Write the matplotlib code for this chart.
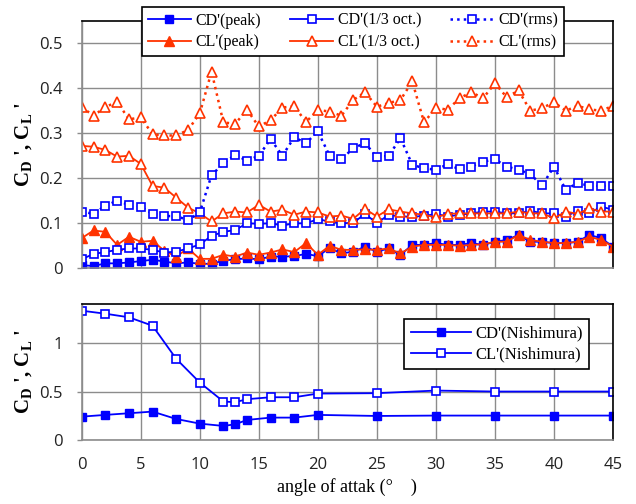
import numpy as np
import matplotlib
matplotlib.use("Agg")
import matplotlib.pyplot as plt

plt.rcParams['mathtext.fontset'] = 'custom'
plt.rcParams['mathtext.rm'] = 'Liberation Serif'
plt.rcParams['mathtext.bf'] = 'Liberation Serif:bold'

angles = list(range(0, 46))

cd_peak = [0.007, 0.005, 0.011, 0.011, 0.013, 0.016, 0.019, 0.015, 0.011, 0.013,
           0.010, 0.010, 0.017, 0.020, 0.022, 0.020, 0.026, 0.026, 0.027, 0.032,
           0.027, 0.045, 0.033, 0.037, 0.048, 0.037, 0.044, 0.030, 0.052, 0.052,
           0.056, 0.052, 0.052, 0.056, 0.052, 0.059, 0.063, 0.074, 0.059, 0.059,
           0.056, 0.056, 0.059, 0.074, 0.067, 0.048]
cl_peak = [0.067, 0.084, 0.081, 0.052, 0.070, 0.059, 0.061, 0.039, 0.026, 0.044,
           0.021, 0.021, 0.030, 0.026, 0.035, 0.030, 0.035, 0.042, 0.036, 0.056,
           0.030, 0.050, 0.041, 0.041, 0.042, 0.041, 0.044, 0.033, 0.048, 0.052,
           0.052, 0.052, 0.050, 0.052, 0.053, 0.059, 0.059, 0.074, 0.063, 0.059,
           0.056, 0.056, 0.059, 0.070, 0.063, 0.048]
cd_oct = [0.020, 0.032, 0.036, 0.041, 0.044, 0.044, 0.041, 0.035, 0.037, 0.044,
          0.053, 0.072, 0.081, 0.085, 0.100, 0.099, 0.100, 0.095, 0.100, 0.100,
          0.109, 0.104, 0.100, 0.101, 0.121, 0.100, 0.119, 0.115, 0.115, 0.116,
          0.121, 0.115, 0.119, 0.122, 0.126, 0.126, 0.122, 0.122, 0.128, 0.122,
          0.122, 0.115, 0.128, 0.122, 0.137, 0.130]
cl_oct = [0.272, 0.270, 0.263, 0.248, 0.250, 0.232, 0.183, 0.179, 0.157, 0.135,
          0.122, 0.104, 0.122, 0.126, 0.124, 0.141, 0.126, 0.130, 0.119, 0.126,
          0.124, 0.115, 0.117, 0.110, 0.132, 0.115, 0.131, 0.126, 0.122, 0.119,
          0.113, 0.121, 0.122, 0.122, 0.122, 0.122, 0.122, 0.126, 0.122, 0.122,
          0.111, 0.126, 0.121, 0.133, 0.126, 0.126]
cd_rms = [0.126, 0.121, 0.139, 0.150, 0.141, 0.137, 0.121, 0.116, 0.116, 0.107,
          0.124, 0.207, 0.233, 0.252, 0.239, 0.250, 0.287, 0.250, 0.291, 0.278,
          0.304, 0.250, 0.242, 0.267, 0.278, 0.247, 0.250, 0.289, 0.230, 0.222,
          0.219, 0.231, 0.220, 0.226, 0.237, 0.242, 0.226, 0.219, 0.209, 0.184,
          0.226, 0.174, 0.190, 0.183, 0.183, 0.183]
cl_rms = [0.358, 0.339, 0.358, 0.370, 0.331, 0.335, 0.298, 0.295, 0.295, 0.307,
          0.344, 0.437, 0.324, 0.321, 0.352, 0.315, 0.329, 0.357, 0.360, 0.325,
          0.352, 0.348, 0.339, 0.374, 0.391, 0.359, 0.367, 0.374, 0.415, 0.324,
          0.357, 0.352, 0.378, 0.391, 0.378, 0.411, 0.380, 0.395, 0.350, 0.356,
          0.369, 0.350, 0.361, 0.353, 0.350, 0.361]

nish_angles = [0, 2, 4, 6, 8, 10, 12, 13, 14, 16, 18, 20, 25, 30, 35, 40, 45]
cd_nish = [0.241, 0.259, 0.276, 0.293, 0.217, 0.169, 0.145, 0.162, 0.207, 0.231,
           0.231, 0.259, 0.248, 0.252, 0.252, 0.252, 0.252]
cl_nish = [1.334, 1.303, 1.266, 1.179, 0.838, 0.593, 0.397, 0.390, 0.421, 0.441,
           0.441, 0.479, 0.483, 0.510, 0.500, 0.500, 0.500]

xticks = [0, 5, 10, 15, 20, 25, 30, 35, 40, 45]
top_yticks = [0, 0.1, 0.2, 0.3, 0.4, 0.5]
top_ylabels = ["0", "0.1", "0.2", "0.3", "0.4", "0.5"]
bot_yticks = [0, 0.5, 1]
bot_ylabels = ["0", "0.5", "1"]

BLUE = '#0000FF'
RED = '#FF3300'
GRID = '#8C8C8C'
TICKFONT = 'Open Sans'
SERIF = 'Liberation Serif'
YLABEL = r"$\mathbf{C_D}$ ', $\mathbf{C_L}$ '"

fig = plt.figure(figsize=(6.36, 5.04), dpi=100)
W, H = 636, 504
ax1 = fig.add_axes([81.7 / W, 1 - 268.3 / H, 531.3 / W, 247.6 / H])
ax2 = fig.add_axes([81.7 / W, 1 - 440 / H, 531.3 / W, 135.7 / H])


def style(ax):
    ax.grid(True, color=GRID, linewidth=1.0)
    ax.set_axisbelow(True)
    for s in ['left', 'bottom']:
        ax.spines[s].set_color(GRID)
        ax.spines[s].set_linewidth(1.2)
    for s in ['top', 'right']:
        ax.spines[s].set_color('black')
        ax.spines[s].set_linewidth(1.2)
    ax.tick_params(axis='y', colors=GRID, length=3.5, width=1, pad=10)
    ax.tick_params(axis='x', length=0)
    for lab in ax.get_xticklabels() + ax.get_yticklabels():
        lab.set_fontfamily(TICKFONT)
        lab.set_fontsize(12)
        lab.set_color('#222222')


ms_sq = 6
ms_tr = 7.5
ax1.plot(angles, cd_peak, '-', color=BLUE, lw=1.3, marker='s', ms=ms_sq, mfc=BLUE, mec=BLUE, label="CD'(peak)")
ax1.plot(angles, cl_peak, '-', color=RED, lw=1.3, marker='^', ms=ms_tr, mfc=RED, mec=RED, label="CL'(peak)")
ax1.plot(angles, cd_oct, '-', color=BLUE, lw=1.3, marker='s', ms=ms_sq, mfc='white', mec=BLUE, mew=1.2, label="CD'(1/3 oct.)")
ax1.plot(angles, cl_oct, '-', color=RED, lw=1.3, marker='^', ms=ms_tr, mfc='white', mec=RED, mew=1.2, label="CL'(1/3 oct.)")
ax1.plot(angles, cd_rms, ':', color=BLUE, lw=1.8, marker='s', ms=ms_sq, mfc='white', mec=BLUE, mew=1.2, label="CD'(rms)")
ax1.plot(angles, cl_rms, ':', color=RED, lw=1.8, marker='^', ms=ms_tr, mfc='white', mec=RED, mew=1.2, label="CL'(rms)")

ax1.set_xlim(0, 45)
ax1.set_ylim(0, 0.55)
ax1.set_xticks(xticks)
ax1.set_xticklabels([])
ax1.set_yticks(top_yticks)
ax1.set_yticklabels(top_ylabels)
style(ax1)
ax1.set_ylabel(YLABEL, fontfamily=SERIF, fontweight='bold', fontsize=15, labelpad=4)

leg1 = fig.legend(loc='upper center', bbox_to_anchor=(353 / W, 1 - 7 / H), ncol=3,
                  prop={'family': SERIF, 'size': 11.5}, frameon=True, fancybox=False,
                  edgecolor='black', framealpha=1, handlelength=2.7, handletextpad=0.3,
                  columnspacing=1.8, borderpad=0.35, labelspacing=0.35, borderaxespad=0)
leg1.get_frame().set_linewidth(1.2)

ax2.plot(nish_angles, cd_nish, '-', color=BLUE, lw=1.3, marker='s', ms=ms_sq, mfc=BLUE, mec=BLUE, label="CD'(Nishimura)")
ax2.plot(nish_angles, cl_nish, '-', color=BLUE, lw=1.3, marker='s', ms=ms_sq, mfc='white', mec=BLUE, mew=1.2, label="CL'(Nishimura)")
ax2.set_xlim(0, 45)
ax2.set_ylim(0, 1.4)
ax2.set_xticks(xticks)
ax2.set_xticklabels([str(t) for t in xticks])
ax2.set_yticks(bot_yticks)
ax2.set_yticklabels(bot_ylabels)
style(ax2)
ax2.tick_params(axis='x', pad=12)
ax2.set_ylabel(YLABEL, fontfamily=SERIF, fontweight='bold', fontsize=15, labelpad=4)
ax2.set_xlabel("angle of attak (°\u3000)", fontfamily=[SERIF, 'Noto Sans CJK JP'], fontsize=13, labelpad=4)

leg2 = ax2.legend(loc='upper right', bbox_to_anchor=(589.3 / W, 1 - 319 / H), bbox_transform=fig.transFigure,
                  prop={'family': SERIF, 'size': 12}, frameon=True, fancybox=False,
                  edgecolor='black', framealpha=1, handlelength=3.6, handletextpad=0.25,
                  borderpad=0.4, labelspacing=0.3, borderaxespad=0)
leg2.get_frame().set_linewidth(1.2)

fig.savefig('out.png', dpi=100)
